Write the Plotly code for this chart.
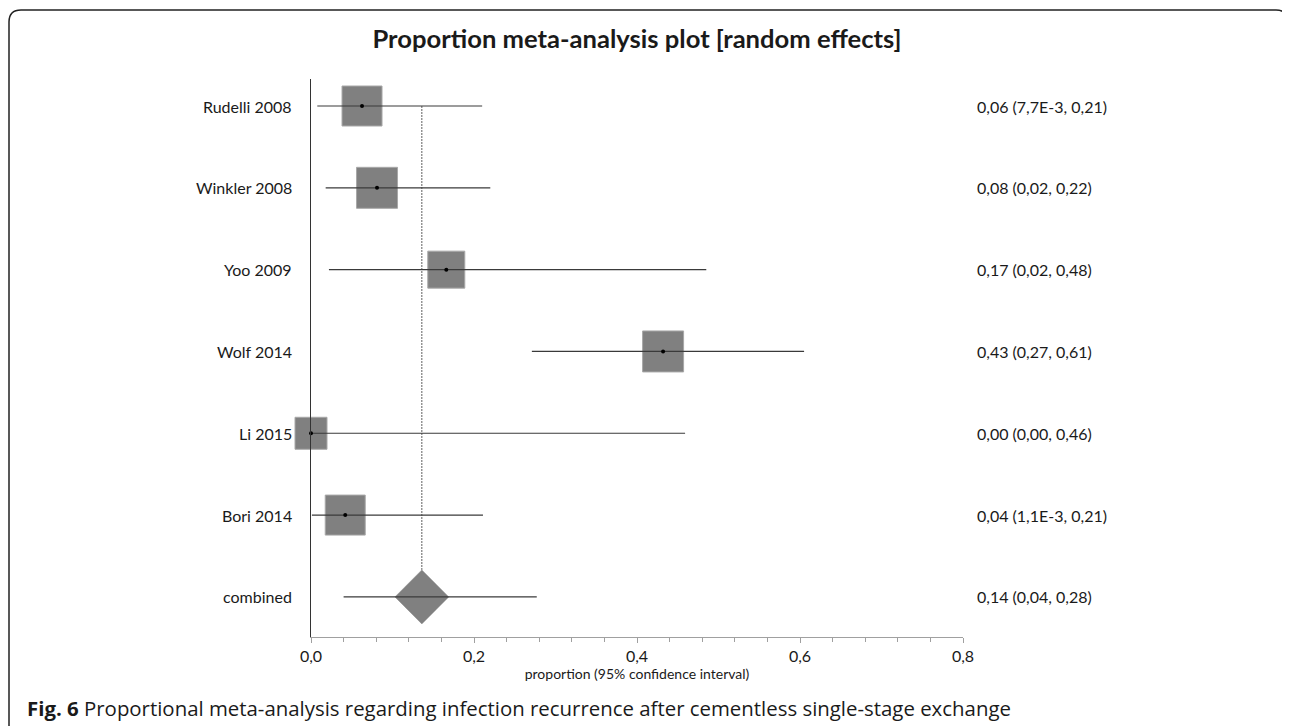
import plotly.graph_objects as go

# ---- data ----
studies = ["Rudelli 2008", "Winkler 2008", "Yoo 2009", "Wolf 2014", "Li 2015", "Bori 2014"]
est = [0.0626, 0.081, 0.166, 0.432, 0.0, 0.042]
ci_lo = [0.0077, 0.018, 0.022, 0.271, 0.0, 0.0011]
ci_hi = [0.21, 0.22, 0.485, 0.605, 0.459, 0.211]
box_px = [40, 41, 37, 41, 32, 40]
study_labels = ["0,06 (7,7E-3, 0,21)", "0,08 (0,02, 0,22)", "0,17 (0,02, 0,48)",
                "0,43 (0,27, 0,61)", "0,00 (0,00, 0,46)", "0,04 (1,1E-3, 0,21)"]
combined_name = "combined"
combined_est = 0.136
combined_lo = 0.04
combined_hi = 0.277
combined_label = "0,14 (0,04, 0,28)"
diamond_halfwidth = 0.033
diamond_halfheight = 0.33
x_ticks = [0.0, 0.2, 0.4, 0.6, 0.8]

n = len(studies)
ypos = [n - i for i in range(n)]  # 6..1
y_comb = 0

all_names = studies + [combined_name]
all_y = ypos + [y_comb]
all_labels = study_labels + [combined_label]

# layout geometry (pixels, page has an 8px body margin)
OFF = 8
W, H = 1290 - OFF, 726 - OFF
L, R, T, B = 311 - OFF, 963 - OFF, 79 - OFF, 637 - OFF


def px(xp):
    return (xp - OFF - L) / (R - L)


def py(yp):
    return (B - (yp - OFF)) / (B - T)


fig = go.Figure()

# squares
fig.add_trace(go.Scatter(
    x=est, y=ypos, mode="markers",
    marker=dict(symbol="square", size=box_px, color="#808080", opacity=1,
                line=dict(color="#a8a8a8", width=1)),
    cliponaxis=False, hoverinfo="skip", showlegend=False))

# diamond
fig.add_trace(go.Scatter(
    x=[combined_est - diamond_halfwidth, combined_est, combined_est + diamond_halfwidth, combined_est,
       combined_est - diamond_halfwidth],
    y=[y_comb, y_comb + diamond_halfheight, y_comb, y_comb - diamond_halfheight, y_comb],
    mode="lines", fill="toself", fillcolor="#808080", line=dict(color="#8a8a8a", width=0.5),
    hoverinfo="skip", showlegend=False))

# dotted vertical line at combined estimate
fig.add_trace(go.Scatter(
    x=[combined_est, combined_est], y=[ypos[0], y_comb + diamond_halfheight],
    mode="lines", line=dict(color="#606060", width=1, dash="2px,1px"),
    hoverinfo="skip", showlegend=False))

# CI lines
cx, cy = [], []
for lo_, hi_, y_ in zip(ci_lo + [combined_lo], ci_hi + [combined_hi], all_y):
    cx += [lo_, hi_, None]
    cy += [y_, y_, None]
fig.add_trace(go.Scatter(
    x=cx, y=cy, mode="lines", line=dict(color="#3a3a3a", width=1.2),
    cliponaxis=False, hoverinfo="skip", showlegend=False))

# points
fig.add_trace(go.Scatter(
    x=est, y=ypos, mode="markers",
    marker=dict(symbol="circle", size=4, color="black", opacity=1),
    cliponaxis=False, hoverinfo="skip", showlegend=False))

FONT = "Lato"
annotations = []
for lab, y_ in zip(all_labels, all_y):
    annotations.append(dict(x=1, xref="paper", y=y_, yref="y", xshift=12, xanchor="left",
                            text=lab, showarrow=False,
                            font=dict(family=FONT, size=16, color="#1a1a1a")))
for nm, y_ in zip(all_names, all_y):
    annotations.append(dict(x=0, xref="paper", y=y_, yref="y", xshift=-17, xanchor="right",
                            text=nm, showarrow=False,
                            font=dict(family=FONT, size=16, color="#1a1a1a")))
annotations.append(dict(x=px(25), xref="paper", y=py(708), yref="paper", xanchor="left",
                        yanchor="middle", showarrow=False,
                        text="<b>Fig. 6</b> Proportional meta-analysis regarding infection recurrence after cementless single-stage exchange",
                        font=dict(family="Open Sans", size=20.4, color="#1a1a1a")))

# rounded frame
r = 12
x0, x1 = px(9), px(1288)
y0, y1 = py(10), py(760)
rx, ry = r / (R - L), r / (B - T)
frame = (f"M {x0},{y1} L {x0},{y0 - ry} Q {x0},{y0} {x0 + rx},{y0} "
         f"L {x1 - rx},{y0} Q {x1},{y0} {x1},{y0 - ry} L {x1},{y1}")

fig.update_layout(
    width=W, height=H,
    margin=dict(l=L, r=W - R, t=T, b=H - B),
    paper_bgcolor="white", plot_bgcolor="white",
    separators=", ",
    title=dict(text="<b>Proportion meta-analysis plot [random effects]</b>",
               x=0.5, xref="paper", xanchor="center", y=1 - (39 - OFF) / H, yanchor="middle",
               font=dict(family=FONT, size=25.6, color="#1a1a1a")),
    xaxis=dict(range=[0, 0.8], tickvals=x_ticks, tickformat=".1f",
               showgrid=False, zeroline=False, showline=True, linecolor="#a0a0a0", linewidth=1,
               ticks="outside", ticklen=5, tickcolor="#a0a0a0",
               minor=dict(dtick=0.04, ticks="outside", ticklen=4, tickcolor="#a0a0a0", showgrid=False),
               tickfont=dict(family=FONT, size=16, color="#1a1a1a"),
               title=dict(text="proportion (95% confidence interval)", standoff=4,
                          font=dict(family=FONT, size=14, color="#1a1a1a"))),
    yaxis=dict(range=[-0.49, 6.33], showticklabels=False, showgrid=False, zeroline=False,
               showline=True, linecolor="#333333", linewidth=1, ticks=""),
    annotations=annotations,
    shapes=[dict(type="path", path=frame, xref="paper", yref="paper",
                 line=dict(color="#222222", width=1.5))],
)

fig.write_html("out.html")
